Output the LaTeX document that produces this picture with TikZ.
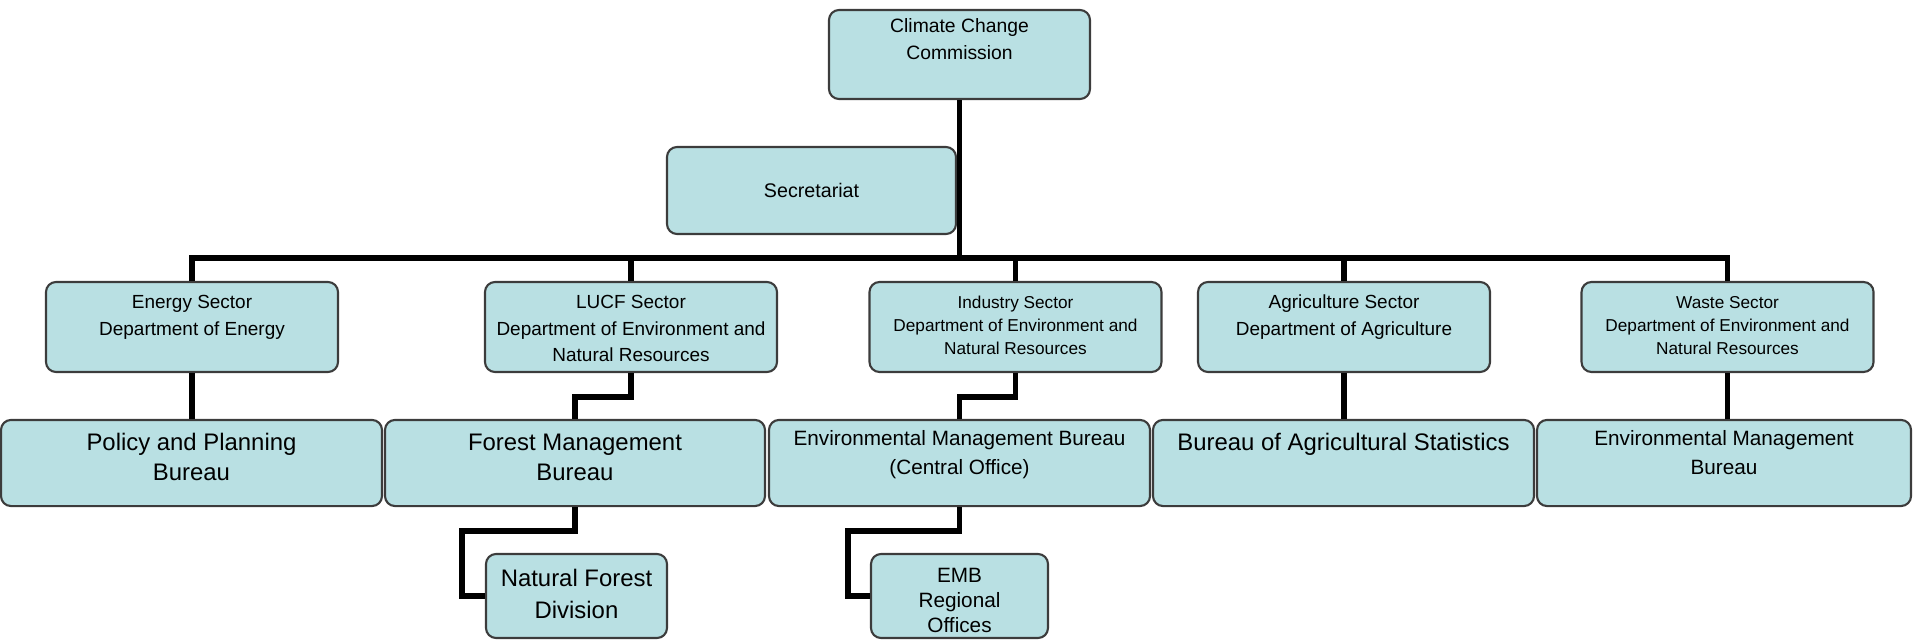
\documentclass[tikz,border=0pt]{standalone}
\usepackage{fontspec}
\setmainfont{Liberation Sans}
\usetikzlibrary{positioning}
\definecolor{boxfill}{RGB}{185,224,227}
\definecolor{boxline}{RGB}{60,60,60}
% lines of a box, baseline on the first line
\newcommand\stack[1]{\begin{tabular}[t]{@{}c@{}}#1\end{tabular}}

\begin{document}
\begin{tikzpicture}[
    x=0.1mm, y=-0.1mm,
    unit/.style={draw=boxline, fill=boxfill, line width=0.6pt, rounded corners=1mm,
                 inner sep=0pt},
    sector/.style={unit, minimum width=2.92cm, minimum height=0.90cm,
                   text height=7.6pt, text depth=18pt, font=\fontsize{5.4}{7.5}\selectfont},
    bureau/.style={unit, minimum width=3.80cm, minimum height=0.86cm,
                   text height=8.7pt, text depth=15.8pt, font=\fontsize{6.8}{8.5}\selectfont},
    office/.style={unit, minimum height=0.84cm},
    link/.style={line width=1.5pt}
]
% canvas: 1 unit = 1px of the 1913x640 chart
\useasboundingbox (0,0) rectangle (1913,640);

% Commission and secretariat
\node[unit, minimum width=2.61cm, minimum height=0.89cm, text height=6.5pt, text depth=18.8pt,
      font=\fontsize{5.5}{7.7}\selectfont] (ccc) at (959.5,54.5) {\stack{Climate Change\\Commission}};
\node[unit, minimum width=2.89cm, minimum height=0.87cm,
      font=\fontsize{5.6}{7}\selectfont] (sec) at (811.5,190.5) {Secretariat};

% Sectors
\node[sector] (energy) at (192,327) {\stack{Energy Sector\\Department of Energy}};
\node[sector] (lucf) at (631,327) {\stack{LUCF Sector\\Department of Environment and\\Natural Resources}};
\node[sector, font=\fontsize{4.9}{6.6}\selectfont, text height=7.4pt] (industry) at (1015.5,327)
      {\stack{Industry Sector\\Department of Environment and\\Natural Resources}};
\node[sector] (agri) at (1344,327) {\stack{Agriculture Sector\\Department of Agriculture}};
\node[sector, font=\fontsize{4.9}{6.6}\selectfont, text height=7.4pt] (waste) at (1727.5,327)
      {\stack{Waste Sector\\Department of Environment and\\Natural Resources}};

% Bureaus
\node[bureau, minimum width=3.81cm] (ppb) at (191.5,463) {\stack{Policy and Planning\\Bureau}};
\node[bureau] (fmb) at (575,463) {\stack{Forest Management\\Bureau}};
\node[bureau, minimum width=3.81cm, text height=7.2pt, text depth=17.3pt,
      font=\fontsize{5.9}{8.2}\selectfont] (emb) at (959.5,463)
      {\stack{Environmental Management Bureau\\(Central Office)}};
\node[bureau, minimum width=3.81cm] (bas) at (1343.5,463) {Bureau of Agricultural Statistics};
\node[bureau, minimum width=3.74cm, text height=7.2pt, text depth=17.3pt,
      font=\fontsize{5.9}{8.2}\selectfont] (embw) at (1724,463)
      {\stack{Environmental Management\\Bureau}};

% Offices
\node[office, minimum width=1.81cm, text height=9.2pt, text depth=14.7pt,
      font=\fontsize{6.8}{9.1}\selectfont] (nfd) at (576.5,596) {\stack{Natural Forest\\Division}};
\node[office, minimum width=1.77cm, text height=8.1pt, text depth=15.8pt,
      font=\fontsize{5.9}{7.1}\selectfont] (embro) at (959.5,596) {\stack{EMB\\Regional\\Offices}};

% Connectors
\coordinate (bus) at (0,258);
\draw[link] (ccc.south) -- (ccc.south |- bus);
\draw[link] (energy.north) |- (bus -| waste.north) -- (waste.north);
\foreach \s in {lucf,industry,agri}
  \draw[link] (\s.north) -- (\s.north |- bus);

\draw[link] (energy.south) -- (energy.south |- ppb.north);
\draw[link] (lucf.south) -- ++(0,24) -| (fmb.north);
\draw[link] (industry.south) -- ++(0,24) -| (emb.north);
\draw[link] (agri.south) -- (agri.south |- bas.north);
\draw[link] (waste.south) -- (waste.south |- embw.north);

\draw[link] (fmb.south) |- ++(-113,24) |- (nfd.west);
\draw[link] (emb.south) |- ++(-111.5,24) |- (embro.west);
\end{tikzpicture}
\end{document}
